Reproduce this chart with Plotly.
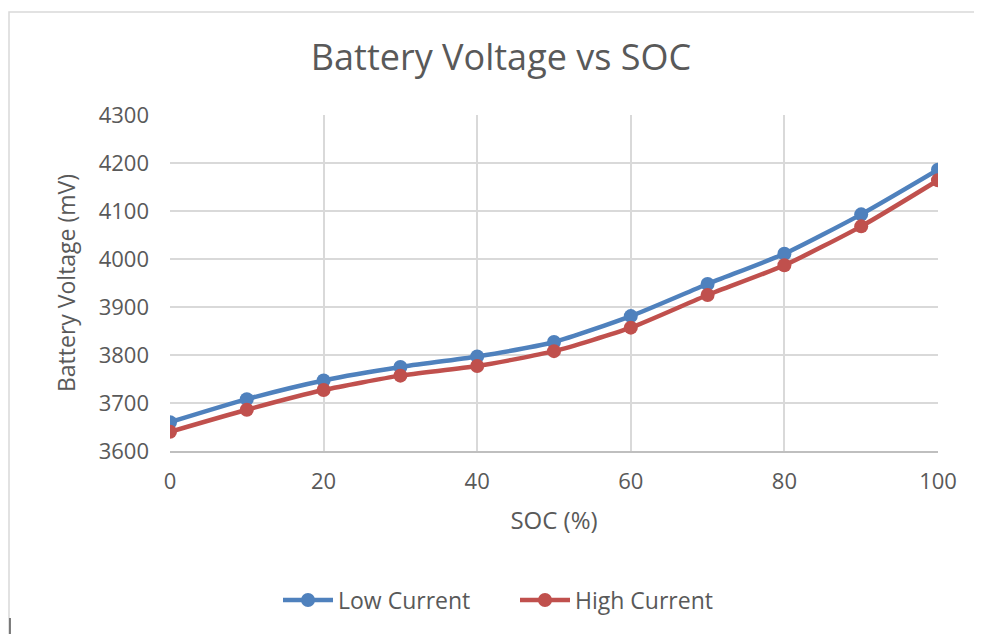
import plotly.graph_objects as go

soc = [0, 10, 20, 30, 40, 50, 60, 70, 80, 90, 100]
low_current = [3660, 3708, 3747, 3775, 3797, 3827, 3881, 3948, 4011, 4093, 4186]
high_current = [3640, 3686, 3727, 3757, 3777, 3808, 3857, 3925, 3987, 4068, 4164]

W, H = 982, 634
# the page body adds an 8px offset; margins are chosen so the plot lands where the reference has it
ML, MR, MT, MB = 162, 52, 107, 191

FONT = "Open Sans"
TXT = "#595959"

fig = go.Figure()
fig.add_trace(go.Scatter(
    x=soc, y=low_current, name="Low Current", mode="lines+markers",
    line=dict(color="#4F81BD", width=4.5, shape="spline", smoothing=0.6),
    marker=dict(size=14, color="#4F81BD")))
fig.add_trace(go.Scatter(
    x=soc, y=high_current, name="High Current", mode="lines+markers",
    line=dict(color="#C0504D", width=4.5, shape="spline", smoothing=0.6),
    marker=dict(size=14, color="#C0504D")))

pw = W - ML - MR
ph = H - MT - MB

fig.update_layout(
    width=W, height=H,
    margin=dict(l=ML, r=MR, t=MT, b=MB),
    paper_bgcolor="white", plot_bgcolor="white",
    font=dict(family=FONT, color=TXT),
    title=dict(text="Battery Voltage vs SOC", x=493 / W, xanchor="center",
               y=1 - 49 / H, yanchor="middle",
               font=dict(size=36, color=TXT, family=FONT)),
    xaxis=dict(range=[0, 100], dtick=20, showgrid=True, gridcolor="#D9D9D9",
               gridwidth=1.5, zeroline=False, showline=True, linecolor="#BFBFBF",
               linewidth=1.5, ticks="", tickfont=dict(size=22, color=TXT),
               ticklabelstandoff=10,
               title=dict(text="SOC (%)", font=dict(size=24, color=TXT), standoff=18)),
    yaxis=dict(range=[3600, 4300], dtick=100, showgrid=True, gridcolor="#D9D9D9",
               gridwidth=1.5, zeroline=False, showline=False, ticks="",
               tickfont=dict(size=22, color=TXT), ticklabelstandoff=20,
               title=dict(text="Battery Voltage (mV)", font=dict(size=23, color=TXT), standoff=16)),
    legend=dict(orientation="h", x=(507 - ML) / pw, xanchor="center",
                y=-(592 - (H - MB)) / ph, yanchor="middle",
                font=dict(size=23, color=TXT), traceorder="normal",
                entrywidth=172, itemwidth=50),
    showlegend=True,
)

fig.add_shape(type="rect", xref="paper", yref="paper",
              x0=(1 - ML) / pw, x1=(W + 10 - ML) / pw,
              y0=-(MB + 10) / ph, y1=1 + (MT - 4) / ph,
              line=dict(color="#D9D9D9", width=1.5), fillcolor="rgba(0,0,0,0)", layer="below")
fig.add_shape(type="line", xref="paper", yref="paper",
              x0=(2 - ML) / pw, x1=(2 - ML) / pw,
              y0=-(610 - (H - MB)) / ph, y1=-(626 - (H - MB)) / ph,
              line=dict(color="#555555", width=1.5))

fig.write_html("out.html")
